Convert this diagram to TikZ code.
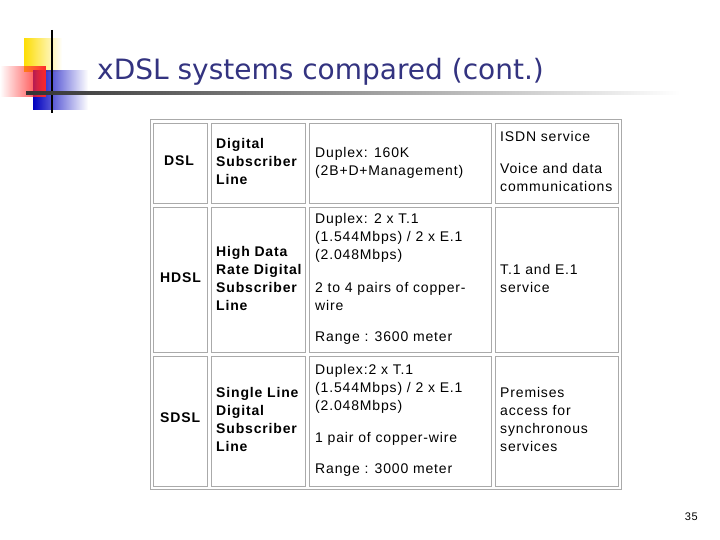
\documentclass[tikz,border=0pt]{standalone}
\usepackage{fontspec}
\setmainfont{Liberation Sans}[LetterSpace=6]
\newfontfamily\titlefont{DejaVu Sans}
\usetikzlibrary{fadings}
\definecolor{titleblue}{RGB}{51,51,128}
\definecolor{cellgray}{RGB}{170,170,170}
\tikzset{
  cell/.style={draw=cellgray, line width=0.8pt},
  txt/.style={anchor=north west, align=left, font=\fontsize{14}{18}\selectfont, inner sep=0pt},
  hd/.style={txt, font=\fontsize{14}{18}\selectfont\bfseries}
}
\begin{document}
\begin{tikzpicture}[x=1pt,y=-1pt]
\useasboundingbox (0,0) rectangle (720,540);
% logo
\fill[yellow!80!orange, path fading=east] (24,38) rectangle (62,72);
\fill[blue!75!black, path fading=east] (33,70) rectangle (88,110);
\fill[red!85, path fading=west] (0,66) rectangle (46,97);
\draw[line width=1.3pt] (52,30) -- (52,113);
\shade[left color=black!80, right color=white] (26,92) rectangle (680,95);
\node[anchor=base west, text=titleblue, font=\titlefont\fontsize{28}{30}\selectfont, inner sep=0pt] (title) at (97,80) {xDSL systems compared (cont.)};
% table
\draw[draw=cellgray, line width=1pt] (150,120) rectangle (621,489);
\foreach \xa/\xb in {153/207,211/305,309/491,495/618}{
  \foreach \ya/\yb in {123/203,207/352,356/486}{
    \draw[cell] (\xa,\ya) rectangle (\xb,\yb);
  }
}
\node[hd] (r1a) at (164,156) {DSL};
\node[hd] (r1b) at (216,138) {Digital\\Subscriber\\Line};
\node[txt] (r1c) at (315,147) {Duplex: 160K\\(2B+D+Management)};
\node[txt] (r1d) at (500,131) {ISDN service};
\node[txt] (r1e) at (500,163) {Voice and data\\communications};
\node[hd] (r2a) at (160,273) {HDSL};
\node[hd] (r2b) at (216,246) {High Data\\Rate Digital\\Subscriber\\Line};
\node[txt] (r2c) at (315,213) {Duplex: 2 x T.1\\(1.544Mbps) / 2 x E.1\\(2.048Mbps)};
\node[txt] (r2d) at (315,282) {2 to 4 pairs of copper-\\wire};
\node[txt] (r2e) at (315,332) {Range : 3600 meter};
\node[txt] (r2f) at (500,264) {T.1 and E.1\\service};
\node[hd] (r3a) at (160,413) {SDSL};
\node[hd] (r3b) at (216,387) {Single Line\\Digital\\Subscriber\\Line};
\node[txt] (r3c) at (315,364) {Duplex:2 x T.1\\(1.544Mbps) / 2 x E.1\\(2.048Mbps)};
\node[txt] (r3d) at (315,432) {1 pair of copper-wire};
\node[txt] (r3e) at (315,464) {Range : 3000 meter};
\node[txt] (r3f) at (500,387) {Premises\\access for\\synchronous\\services};
\node[anchor=base east, font=\fontsize{11}{12}\selectfont, inner sep=0pt] (pg) at (698,520) {35};
\end{tikzpicture}
\end{document}
